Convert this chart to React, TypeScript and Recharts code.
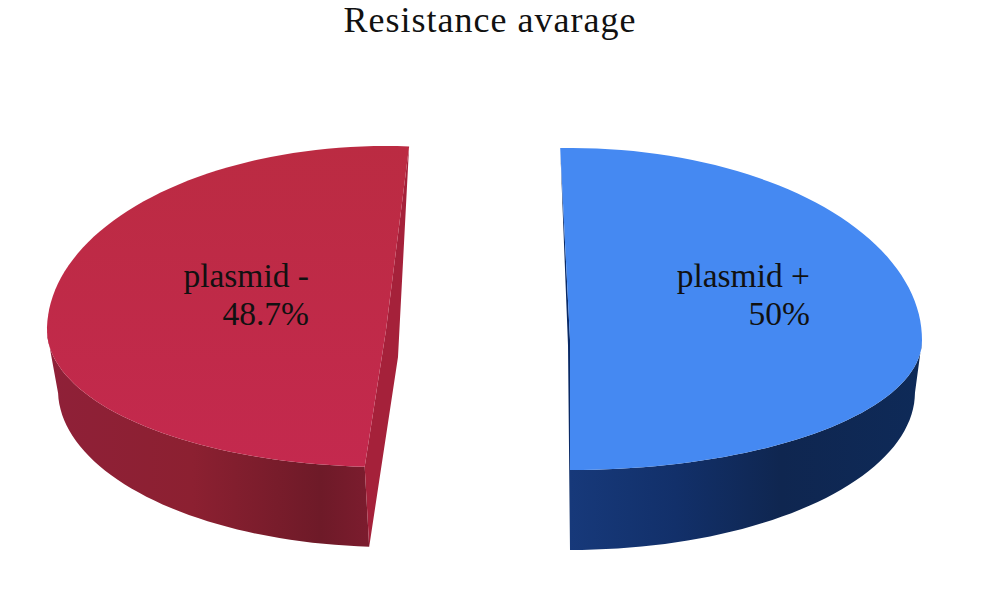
import { PieChart, Pie, Cell } from 'recharts';

const plusSlice = [{ name: 'plasmid +', value: 50 }];
const minusSlice = [{ name: 'plasmid -', value: 48.7 }];
const chartTitle = 'Resistance avarage';

// the original is a fake 3D pie, so every slice needs a bit of perspective
const plusLook = {
  topFill: '#4589f2',
  sideFill: 'url(#plusSide)',
  cutFill: '#0a2a66',
  ryUp: 192,
  ryDown: 130,
  floor: { dx: 0, dy: 52, rx: 345, ry: 158 },
  knee: { dx: -2, dy: 5 },
};
const minusLook = {
  topFill: 'url(#minusTop)',
  sideFill: 'url(#minusSide)',
  cutFill: '#a5213a',
  ryUp: 184,
  ryDown: 137,
  floor: { dx: 4, dy: 60, rx: 332, ry: 157 },
  knee: { dx: 12, dy: 27 },
};

const rad = (deg: number) => (deg * Math.PI) / 180;

function anglesBetween(from: number, to: number) {
  const out: number[] = [];
  const n = Math.ceil(Math.abs(to - from) / 2);
  for (let i = 0; i <= n; i++) out.push(from + ((to - from) * i) / n);
  return out;
}

function makeShape(look: typeof plusLook) {
  return function SliceShape(props: any) {
    const { cx, cy, outerRadius, startAngle, endAngle } = props;
    const top = (a: number) => {
      const s = Math.sin(rad(a));
      return [cx + outerRadius * Math.cos(rad(a)), cy - (s > 0 ? look.ryUp : look.ryDown) * s];
    };
    const floor = (a: number) => [
      cx + look.floor.dx + look.floor.rx * Math.cos(rad(a)),
      cy + look.floor.dy - look.floor.ry * Math.sin(rad(a)),
    ];
    const angles = anglesBetween(startAngle, endAngle);
    const lower = angles.filter((a) => Math.sin(rad(a)) <= 0);
    const upperAngle = Math.sin(rad(startAngle)) > Math.sin(rad(endAngle)) ? startAngle : endAngle;
    const lowerAngle = upperAngle === startAngle ? endAngle : startAngle;

    const toPath = (pts: number[][]) => 'M' + pts.map((p) => `${p[0].toFixed(1)},${p[1].toFixed(1)}`).join('L') + 'Z';

    const facePath = toPath([[cx, cy], ...angles.map(top)]);
    const sidePath = toPath([...lower.map(top), ...[...lower].reverse().map(floor)]);
    const cutPath = toPath([
      top(upperAngle),
      [cx, cy],
      top(lowerAngle),
      floor(lowerAngle),
      [cx + look.knee.dx, cy + look.knee.dy],
    ]);

    return (
      <g>
        <path d={sidePath} fill={look.sideFill} />
        <path d={cutPath} fill={look.cutFill} />
        <path d={facePath} fill={look.topFill} />
      </g>
    );
  };
}

const sliceLabel = (right: number, baseline: number) =>
  function SliceLabel(props: any) {
    return (
      <text textAnchor="end" fontFamily="Liberation Serif" fontSize={33.5} fill="#111">
        <tspan x={right} y={baseline}>{props.name}</tspan>
        <tspan x={right} y={baseline + 38}>{props.value}%</tspan>
      </text>
    );
  };

export default function App() {
  return (
    <div style={{ position: 'absolute', left: 0, top: 0, background: '#fff' }}>
      <PieChart width={1000} height={613} margin={{ top: 0, right: 0, bottom: 0, left: 0 }}>
        <defs>
          <linearGradient id="plusSide" x1="0" y1="0" x2="1" y2="0">
            <stop offset="0" stopColor="#17397a" />
            <stop offset="0.3" stopColor="#12306a" />
            <stop offset="0.6" stopColor="#0f2650" />
            <stop offset="1" stopColor="#0e2a58" />
          </linearGradient>
          <linearGradient id="minusSide" x1="0" y1="0" x2="1" y2="0">
            <stop offset="0" stopColor="#8f2038" />
            <stop offset="0.45" stopColor="#8c2031" />
            <stop offset="0.85" stopColor="#6e1a28" />
            <stop offset="1" stopColor="#7c1c2e" />
          </linearGradient>
          <linearGradient id="minusTop" x1="0" y1="0" x2="0" y2="1">
            <stop offset="0" stopColor="#bb2b42" />
            <stop offset="1" stopColor="#c4294e" />
          </linearGradient>
        </defs>
        <text x={490} y={32} textAnchor="middle" fontFamily="Liberation Serif" fontSize={36} letterSpacing={1} fill="#111">
          {chartTitle}
        </text>
        <Pie
          data={minusSlice}
          dataKey="value"
          nameKey="name"
          cx={386}
          cy={330}
          outerRadius={339}
          startAngle={-93.6}
          endAngle={-273.9}
          stroke="none"
          shape={makeShape(minusLook)}
          label={sliceLabel(309, 287)}
          labelLine={false}
          isAnimationActive={false}
        >
          <Cell fill="#bf2a46" />
        </Pie>
        <Pie
          data={plusSlice}
          dataKey="value"
          nameKey="name"
          cx={570}
          cy={340}
          outerRadius={352}
          startAngle={91.6}
          endAngle={-90}
          stroke="none"
          shape={makeShape(plusLook)}
          label={sliceLabel(810, 287)}
          labelLine={false}
          isAnimationActive={false}
        >
          <Cell fill="#4589f2" />
        </Pie>
      </PieChart>
    </div>
  );
}
